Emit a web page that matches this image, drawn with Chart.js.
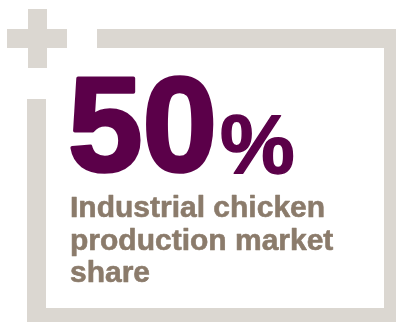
<!DOCTYPE html>
<html>
<head>
<meta charset="utf-8">
<script src="https://cdn.jsdelivr.net/npm/chart.js@4.4.1/dist/chart.umd.min.js"></script>
<style>
  html, body { margin: 0; padding: 0; background: #fff; }
  #stat { display: block; }
</style>
</head>
<body>
<canvas id="stat" width="396" height="322"></canvas>
<script>
const statValue = [50];
const statUnit = ["%"];
const labelLines = ["Industrial chicken", "production market", "share"];

const frameColor = "#dbd7d1";
const valueColor = "#5b0049";
const labelColor = "#8b7b6b";
const fontFamily = "'Liberation Sans', Arial, Helvetica, sans-serif";

// frame pieces: the plus sign in the corner and the open box around the figure
const framePieces = [
    [28, 9, 19, 59],    // plus, vertical arm
    [7, 29, 60, 19],    // plus, horizontal arm
    [97, 29, 299, 19],  // top edge
    [384, 29, 12, 293], // right edge
    [27, 308, 369, 14], // bottom edge
    [27, 99, 19, 223]   // left edge
];

// fill + thin stroke in the same colour to get a heavier weight
function heavyText(ctx, text, x, y, weight) {
    ctx.lineJoin = 'round';
    ctx.lineWidth = weight;
    ctx.strokeStyle = ctx.fillStyle;
    ctx.strokeText(text, x, y);
    ctx.fillText(text, x, y);
}

const statPlugin = {
    id: 'statPlugin',
    beforeDraw(chart) {
        const ctx = chart.ctx;
        ctx.save();
        ctx.fillStyle = frameColor;
        framePieces.forEach(p => ctx.fillRect(p[0], p[1], p[2], p[3]));
        ctx.restore();
    },
    afterDraw(chart) {
        const ctx = chart.ctx;
        const v = chart.data.datasets[0].data[0];
        ctx.save();
        ctx.textBaseline = 'alphabetic';
        ctx.textAlign = 'left';

        // big number
        ctx.fillStyle = valueColor;
        ctx.font = "bold 134px " + fontFamily;
        const num = String(v);
        heavyText(ctx, num, 68, 171, 3.5);
        const w = ctx.measureText(num).width;

        // unit
        ctx.font = "bold 84px " + fontFamily;
        heavyText(ctx, statUnit[0], 68 + w + 3, 173, 1.5);

        // label
        ctx.fillStyle = labelColor;
        ctx.font = "bold 30px " + fontFamily;
        labelLines.forEach((line, i) => heavyText(ctx, line, 70, 217 + i * 32.5, 0.6));
        ctx.restore();
    }
};

new Chart(document.getElementById('stat'), {
    type: 'bar',
    data: {
        labels: ['share'],
        datasets: [{ data: statValue, backgroundColor: 'rgba(0,0,0,0)', borderWidth: 0 }]
    },
    options: {
        responsive: false,
        animation: false,
        events: [],
        plugins: { legend: { display: false }, tooltip: { enabled: false } },
        scales: { x: { display: false }, y: { display: false, min: 0, max: 100 } }
    },
    plugins: [statPlugin]
});
</script>
</body>
</html>
